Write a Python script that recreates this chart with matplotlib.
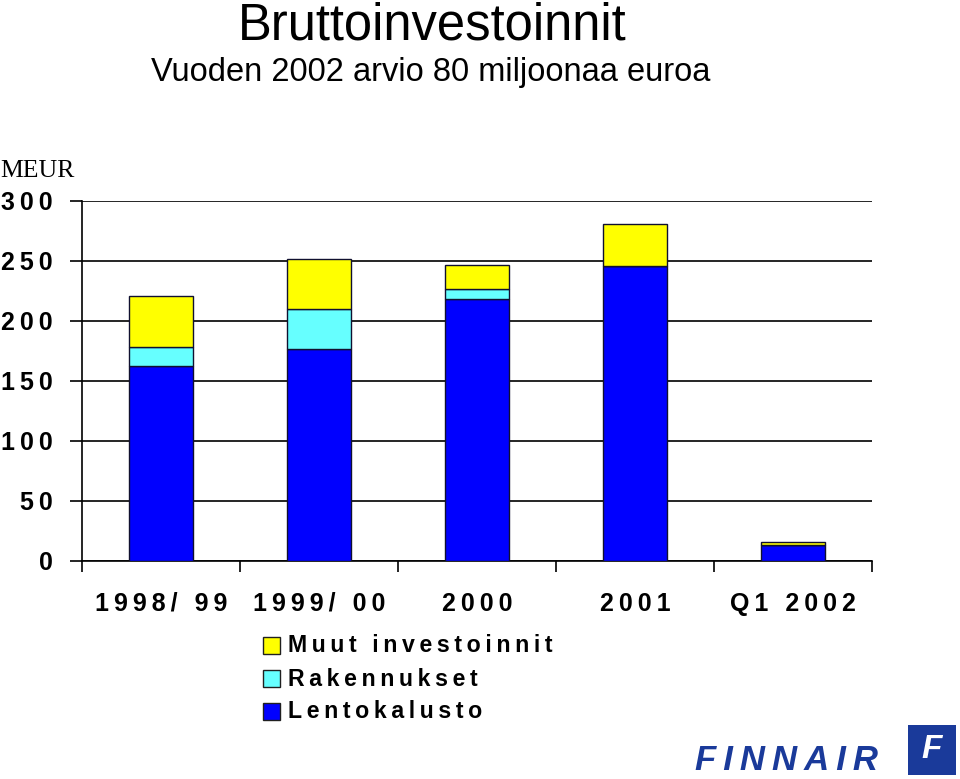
import numpy as np
import matplotlib.pyplot as plt
from matplotlib.patches import Rectangle

# Data (MEUR)
kaudet = ["1998/ 99", "1999/ 00", "2000", "2001", "Q1 2002"]
lentokalusto = [162.5, 177, 218.5, 246, 13.5]
rakennukset = [16, 33, 8, 0, 0]
muut = [42.5, 42, 20.5, 35, 2.5]

sarjat = ["Muut investoinnit", "Rakennukset", "Lentokalusto"]
varit = ["#FFFF00", "#66FFFF", "#0000FF"]

FAM = ["Liberation Sans", "DejaVu Sans"]


def harva(s):
    # letter spacing like in the original slide
    return "\u2009".join(s)


fig = plt.figure(figsize=(9.6, 7.79), dpi=100)
ax = fig.add_axes([82 / 960, 1 - 561 / 779, 790 / 960, 360 / 779])

x = np.arange(len(kaudet))
w = 0.4
b1 = np.array(lentokalusto)
b2 = b1 + np.array(rakennukset)
ax.bar(x, lentokalusto, w, color=varit[2], edgecolor="#101030", linewidth=1, zorder=3)
ax.bar(x, rakennukset, w, bottom=b1, color=varit[1], edgecolor="#101030", linewidth=1, zorder=3)
ax.bar(x, muut, w, bottom=b2, color=varit[0], edgecolor="#101030", linewidth=1, zorder=3)

ax.set_xlim(-0.5, len(kaudet) - 0.5)
ax.set_ylim(0, 300)
ax.set_yticks(np.arange(0, 301, 50))
ax.set_yticklabels([harva(str(v)) for v in range(0, 301, 50)], family=FAM,
                   fontsize=18, fontweight="bold")
ax.yaxis.grid(True, color="black", linewidth=1.2, zorder=0)
ax.tick_params(axis="y", length=9, width=1.2, pad=12)

ax.set_xticks(np.arange(-0.5, len(kaudet)), minor=False)
ax.set_xticklabels([])
ax.set_xticks(x, minor=True)
ax.set_xticklabels([harva(k) for k in kaudet], minor=True, family=FAM,
                   fontsize=18, fontweight="bold")
ax.tick_params(axis="x", which="major", length=8, width=1.2)
ax.tick_params(axis="x", which="minor", length=0, pad=22)

for s in ["top", "right"]:
    ax.spines[s].set_visible(False)
for s in ["left", "bottom"]:
    ax.spines[s].set_linewidth(1.2)

# titles
fig.text(432 / 960, 1 - 1 / 779, "Bruttoinvestoinnit", ha="center", va="top",
         family=FAM, fontsize=36.5)
fig.text(431 / 960, 1 - 72 / 779, "Vuoden 2002 arvio 80 miljoonaa euroa", ha="center",
         va="center", family=FAM, fontsize=23.5)
fig.text(0.0, 1 - 171 / 779, "MEUR", ha="left", va="center",
         family=["Liberation Serif", "DejaVu Serif"], fontsize=18.5)

# legend
for i, (nimi, c) in enumerate(zip(sarjat, varit)):
    yc = 645 + i * 33
    fig.patches.append(Rectangle((263 / 960, 1 - (yc + 9) / 779), 17 / 960, 17 / 779,
                                 transform=fig.transFigure, facecolor=c,
                                 edgecolor="#202020", linewidth=1))
    fig.text(288 / 960, 1 - (yc + 1) / 779, harva(nimi), ha="left", va="center",
             family=FAM, fontsize=16.7, fontweight="bold")

# Finnair logo
fig.text(695 / 960, 1 - 770 / 779, harva("FINNAIR"), ha="left", va="baseline",
         family=FAM, fontsize=25, fontweight="bold", style="italic", color="#1a3a9a")
fig.patches.append(Rectangle((908 / 960, 1 - 775 / 779), 48 / 960, 50 / 779,
                             transform=fig.transFigure, facecolor="#1a3a9a",
                             edgecolor="none"))
fig.text(932 / 960, 1 - 750 / 779, "F", ha="center", va="center", family=FAM,
         fontsize=24, fontweight="bold", style="italic", color="white")

fig.savefig("out.png", dpi=100)
